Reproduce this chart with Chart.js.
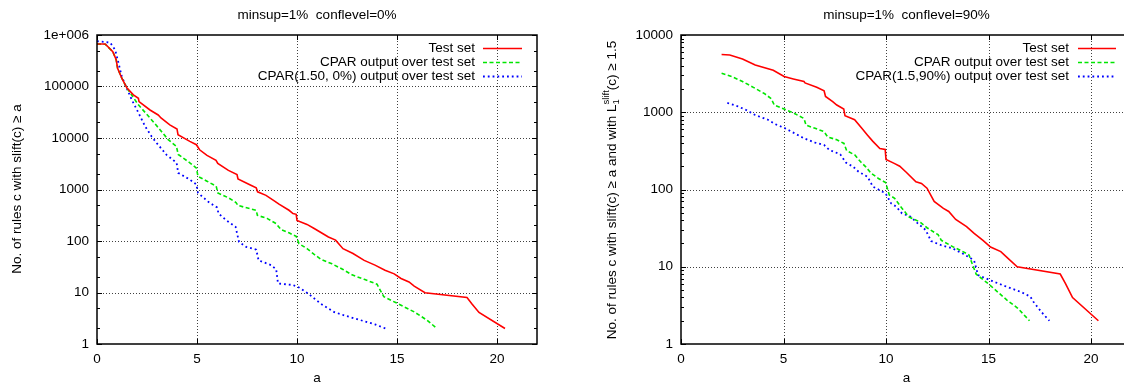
<!DOCTYPE html>
<html><head><meta charset="utf-8">
<script src="https://cdn.jsdelivr.net/npm/chart.js@4"></script>
<style>
html,body{margin:0;padding:0;background:#fff;overflow:hidden;width:1124px;height:386px;}
#wl{position:absolute;left:0;top:0;width:560px;height:386px;}
#wr{position:absolute;left:560px;top:0;width:580px;height:386px;}
canvas{display:block;}
</style></head><body>
<div id="wl"><canvas id="cl" width="560" height="386"></canvas></div>
<div id="wr"><canvas id="cr" width="580" height="386"></canvas></div>
<script>
// ---------- data ----------
const xTicks = [0, 5, 10, 15, 20];
const xTickLabels = ['0', '5', '10', '15', '20'];
const leftYTicks = [1, 10, 100, 1000, 10000, 100000, 1000000];
const leftYTickLabels = ['1', '10', '100', '1000', '10000', '100000', '1e+006'];
const rightYTicks = [1, 10, 100, 1000, 10000];
const rightYTickLabels = ['1', '10', '100', '1000', '10000'];

const seriesNames = ['Test set', 'CPAR output over test set'];
const leftBlueName = 'CPAR(1.50, 0%) output over test set';
const rightBlueName = 'CPAR(1.5,90%) output over test set';

const leftTestA = [0, 0.41, 0.79, 0.96, 1.03, 1.24, 1.49, 1.82, 2.07, 2.1, 2.65, 3.06, 3.2, 3.64, 4.0, 4.05, 4.64, 4.97, 5.13, 5.5, 5.95, 6.04, 6.57, 7.0, 7.05, 7.64, 7.96, 8.03, 8.45, 8.9, 9.1, 9.6, 9.8, 9.96, 10.0, 10.5, 10.86, 11.3, 11.57, 11.93, 12.3, 12.8, 13.36, 13.9, 14.4, 14.86, 15.2, 15.6, 15.86, 16.4, 18.5, 18.75, 19.1, 20.4];
const leftTestV = [670000, 670000, 475000, 330000, 226000, 145000, 94000, 69000, 59000, 51000, 35000, 28000, 24500, 18000, 15000, 11600, 8600, 7400, 5900, 4600, 3700, 3200, 2350, 1950, 1600, 1240, 1080, 900, 770, 590, 520, 395, 340, 330, 250, 210, 175, 138, 120, 104, 71, 57, 42, 34, 27, 23, 18.7, 16, 13.3, 9.9, 8.0, 6.0, 4.1, 2];

const leftCparA = [0, 0.41, 0.79, 0.96, 1.03, 1.24, 1.49, 2.07, 2.65, 3.15, 3.56, 3.97, 4.06, 4.64, 4.97, 5.05, 5.5, 5.96, 6.04, 6.57, 6.95, 7.05, 7.64, 7.96, 8.02, 8.5, 8.96, 9.2, 9.6, 9.96, 10.1, 10.5, 10.86, 11.2, 11.75, 12.3, 12.75, 13.36, 14.0, 14.34, 14.96, 15.86, 16.5, 17.0];
const leftCparV = [670000, 660000, 475000, 330000, 226000, 145000, 94000, 44000, 24500, 14500, 9300, 6900, 4800, 3300, 2600, 1800, 1450, 1160, 860, 690, 560, 490, 425, 395, 315, 275, 217, 167, 144, 123, 89, 71, 55, 44, 36, 28, 22, 18, 14.5, 8.3, 6.3, 4.2, 2.9, 2];

const leftCpar15A = [0, 0.66, 0.91, 1.08, 1.24, 1.49, 1.74, 2.07, 2.4, 2.73, 2.98, 3.48, 3.98, 4.06, 4.64, 4.97, 5.05, 5.63, 6.0, 6.08, 6.48, 6.93, 7.1, 7.46, 7.96, 8.08, 8.71, 8.96, 9.05, 9.79, 10.1, 10.55, 11.2, 11.84, 12.46, 13.18, 13.9, 14.43];
const leftCpar15V = [760000, 710000, 510000, 280000, 156000, 92000, 55000, 31000, 17000, 10700, 8000, 4700, 3300, 2100, 1560, 1250, 860, 550, 450, 340, 250, 188, 96, 77, 68, 42, 34, 28, 15, 14, 12.5, 9.6, 6, 4.2, 3.5, 2.9, 2.4, 2];

const rightTestA = [1.98, 2.38, 3.0, 3.62, 4.5, 5.03, 5.48, 6.0, 6.05, 6.62, 6.98, 7.05, 7.4, 7.6, 7.94, 8.0, 8.47, 8.82, 9.1, 9.36, 9.7, 9.96, 10.0, 10.4, 10.67, 11.0, 11.46, 11.73, 12.0, 12.35, 12.8, 13.06, 13.4, 13.93, 14.3, 14.73, 15.1, 15.6, 15.9, 16.4, 18.5, 18.75, 19.1, 20.36];
const rightTestV = [5600, 5500, 4900, 4100, 3500, 2900, 2700, 2500, 2400, 2100, 1900, 1600, 1370, 1240, 1100, 900, 800, 620, 505, 420, 340, 330, 245, 218, 200, 166, 126, 120, 104, 70, 57, 52, 41, 33, 27, 22, 18, 15.7, 13.2, 10, 8.05, 6.1, 4.0, 2];

const rightCparA = [1.98, 2.47, 3.0, 3.53, 4.06, 4.4, 4.55, 5.03, 5.48, 6.0, 6.1, 6.54, 6.98, 7.15, 7.6, 7.95, 8.08, 8.48, 8.75, 9.0, 9.28, 9.63, 9.98, 10.16, 10.42, 10.78, 11.13, 11.66, 12.0, 12.54, 12.7, 13.25, 13.6, 14.05, 14.2, 14.4, 15.0, 15.9, 16.43, 17.0];
const rightCparV = [3200, 2900, 2500, 2100, 1750, 1500, 1240, 1100, 980, 830, 680, 620, 560, 480, 440, 395, 318, 280, 230, 198, 162, 139, 123, 85, 77, 57, 44, 38, 32, 26, 22, 18.2, 16.5, 14.2, 11, 8, 6, 3.7, 2.9, 2];

const rightCpar15A = [2.26, 2.74, 3.18, 3.62, 4.24, 4.6, 5.03, 5.48, 6.0, 6.54, 6.98, 7.24, 7.77, 8.04, 8.39, 8.66, 9.1, 9.36, 9.63, 9.98, 10.25, 10.5, 10.78, 11.2, 11.57, 11.93, 12.2, 12.7, 13.25, 13.78, 14.13, 14.3, 14.49, 15.2, 15.9, 16.6, 17.04, 17.2, 17.58, 17.97];
const rightCpar15V = [1320, 1200, 1070, 920, 800, 700, 630, 545, 460, 405, 377, 325, 285, 223, 198, 170, 146, 109, 100, 89, 66, 60, 49, 44.5, 36, 30, 21.5, 19, 17.3, 14.6, 12.9, 12, 7.8, 6.5, 5.5, 4.7, 4.1, 3.5, 2.6, 2];

// ---------- helpers ----------
const FONT = '"Liberation Sans", Arial, Helvetica, sans-serif';
const RED = '#ff0000', GREEN = '#00e600', BLUE = '#0000ff';
function pts(a, v) { return a.map((x, i) => ({ x: x, y: v[i] })); }

function makeDatasets(tA, tV, cA, cV, bA, bV, blueName) {
  return [
    { label: seriesNames[0], data: pts(tA, tV), borderColor: RED, borderWidth: 1.6, borderDash: [] },
    { label: seriesNames[1], data: pts(cA, cV), borderColor: GREEN, borderWidth: 1.6, borderDash: [4, 2.5] },
    { label: blueName, data: pts(bA, bV), borderColor: BLUE, borderWidth: 1.8, borderDash: [1.8, 3] }
  ];
}

function makeDecor(cfg) {
  return {
    id: 'gnuplotDecor',
    beforeDatasetsDraw(chart) {
      const { ctx, chartArea: ca, scales: { x, y } } = chart;
      ctx.save();
      ctx.strokeStyle = 'rgba(0,0,0,0.75)';
      ctx.lineWidth = 1;
      ctx.setLineDash([1, 2]);
      xTicks.forEach(v => {
        const px = Math.round(x.getPixelForValue(v)) + 0.5;
        if (px > ca.left + 2 && px < ca.right - 2) {
          ctx.beginPath(); ctx.moveTo(px, ca.top); ctx.lineTo(px, ca.bottom); ctx.stroke();
        }
      });
      cfg.yTicks.forEach(v => {
        const py = Math.round(y.getPixelForValue(v)) + 0.5;
        if (py > ca.top + 2 && py < ca.bottom - 2) {
          ctx.beginPath(); ctx.moveTo(ca.left, py); ctx.lineTo(ca.right, py); ctx.stroke();
        }
      });
      ctx.restore();
    },
    afterDatasetsDraw(chart) {
      const { ctx, chartArea: ca, scales: { x, y } } = chart;
      ctx.save();
      ctx.setLineDash([]);
      ctx.strokeStyle = '#000';
      // ticks (inward, mirrored)
      ctx.lineWidth = 1;
      const MAJ = 5, MIN = 3;
      xTicks.forEach(v => {
        const px = Math.round(x.getPixelForValue(v)) + 0.5;
        ctx.beginPath();
        ctx.moveTo(px, ca.bottom); ctx.lineTo(px, ca.bottom - MAJ);
        ctx.moveTo(px, ca.top); ctx.lineTo(px, ca.top + MAJ);
        ctx.stroke();
      });
      const yMax = cfg.yTicks[cfg.yTicks.length - 1];
      for (let d = 1; d <= yMax; d *= 10) {
        [1].concat(cfg.minorMult).forEach(m => {
          const v = d * m;
          if (v > yMax) return;
          const len = m === 1 ? MAJ : MIN;
          const py = Math.round(y.getPixelForValue(v)) + 0.5;
          ctx.beginPath();
          ctx.moveTo(ca.left, py); ctx.lineTo(ca.left + len, py);
          ctx.moveTo(ca.right, py); ctx.lineTo(ca.right - len, py);
          ctx.stroke();
        });
      }
      // border
      ctx.lineWidth = 1.5;
      ctx.strokeRect(ca.left, ca.top, ca.right - ca.left, ca.bottom - ca.top);

      // legend
      ctx.font = '13.5px ' + FONT;
      ctx.fillStyle = '#000';
      ctx.textAlign = 'right';
      ctx.textBaseline = 'middle';
      chart.data.datasets.forEach((ds, i) => {
        const ry = cfg.legendTop + i * 14;
        ctx.fillText(ds.label, ca.right - cfg.legendTextGap, ry);
        ctx.save();
        ctx.strokeStyle = ds.borderColor;
        ctx.lineWidth = ds.borderWidth;
        ctx.setLineDash(ds.borderDash || []);
        ctx.beginPath();
        ctx.moveTo(ca.right - cfg.legendSampleStart, ry + 0.5);
        ctx.lineTo(ca.right - cfg.legendSampleEnd, ry + 0.5);
        ctx.stroke();
        ctx.restore();
      });

      // title
      const cx = (ca.left + ca.right) / 2;
      ctx.textAlign = 'center';
      ctx.font = '13.5px ' + FONT;
      ctx.fillText(cfg.title, cx, 15);
      // x title
      ctx.font = '13.5px ' + FONT;
      ctx.fillText('a', cx, 378);

      // y title (rotated, with optional sub/superscripts)
      const big = '13.5px ' + FONT, small = '9.5px ' + FONT;
      let total = 0;
      const widths = cfg.yTitleParts.map(p => {
        let w;
        if (p.stack) {
          ctx.font = small;
          w = Math.max(...p.stack.map(s => ctx.measureText(s.t).width));
        } else {
          ctx.font = big;
          w = ctx.measureText(p.t).width;
        }
        total += w;
        return w;
      });
      ctx.translate(cfg.yTitleX, cfg.yTitleY);
      ctx.rotate(-Math.PI / 2);
      ctx.textAlign = 'left';
      let pos = -total / 2;
      cfg.yTitleParts.forEach((p, i) => {
        if (p.stack) {
          ctx.font = small;
          p.stack.forEach(s => ctx.fillText(s.t, pos, s.dy));
        } else {
          ctx.font = big;
          ctx.fillText(p.t, pos, 0);
        }
        pos += widths[i];
      });
      ctx.restore();
    }
  };
}

function makeChart(canvasId, datasets, cfg) {
  return new Chart(document.getElementById(canvasId), {
    type: 'line',
    data: { datasets: datasets },
    options: {
      responsive: false,
      animation: false,
      devicePixelRatio: 1,
      layout: { padding: { left: 0, top: 35, right: cfg.padRight, bottom: 0 } },
      elements: { point: { radius: 0, hoverRadius: 0 }, line: { tension: 0, fill: false } },
      plugins: { legend: { display: false }, title: { display: false }, tooltip: { enabled: false } },
      scales: {
        x: {
          type: 'linear', min: 0, max: 22,
          afterBuildTicks: s => { s.ticks = xTicks.map(v => ({ value: v })); },
          afterFit: s => { s.height = 42; },
          grid: { display: false, drawTicks: false },
          border: { display: false },
          ticks: {
            color: '#000', font: { family: FONT, size: 13.5 }, padding: 7,
            maxRotation: 0, autoSkip: false,
            callback: (v, i) => xTickLabels[i]
          }
        },
        y: {
          type: 'logarithmic', min: 1, max: cfg.yTicks[cfg.yTicks.length - 1],
          afterBuildTicks: s => { s.ticks = cfg.yTicks.map(v => ({ value: v })); },
          afterFit: s => { s.width = cfg.yWidth; },
          grid: { display: false, drawTicks: false },
          border: { display: false },
          ticks: {
            color: '#000', font: { family: FONT, size: 13.5 }, padding: 8,
            autoSkip: false,
            callback: (v, i) => cfg.yTickLabels[i]
          }
        }
      }
    },
    plugins: [makeDecor(cfg)]
  });
}

makeChart('cl', makeDatasets(leftTestA, leftTestV, leftCparA, leftCparV, leftCpar15A, leftCpar15V, leftBlueName), {
  title: 'minsup=1%  conflevel=0%',
  yTicks: leftYTicks, yTickLabels: leftYTickLabels, minorMult: [2, 5],
  yWidth: 97, padRight: 23,
  legendTop: 48, legendTextGap: 62, legendSampleStart: 54, legendSampleEnd: 15,
  yTitleX: 17, yTitleY: 189,
  yTitleParts: [{ t: 'No. of rules c with slift(c) \u2265 a' }]
});

makeChart('cr', makeDatasets(rightTestA, rightTestV, rightCparA, rightCparV, rightCpar15A, rightCpar15V, rightBlueName), {
  title: 'minsup=1%  conflevel=90%',
  yTicks: rightYTicks, yTickLabels: rightYTickLabels, minorMult: [2, 3, 4, 5, 6, 7, 8, 9],
  yWidth: 121, padRight: 8,
  legendTop: 48, legendTextGap: 63, legendSampleStart: 54, legendSampleEnd: 16,
  yTitleX: 52, yTitleY: 190,
  yTitleParts: [
    { t: 'No. of rules c with slift(c) \u2265 a and with L' },
    { stack: [{ t: 'slift', dy: -6 }, { t: '1', dy: 4 }] },
    { t: '(c) \u2265 1.5' }
  ]
});
</script>
</body></html>
